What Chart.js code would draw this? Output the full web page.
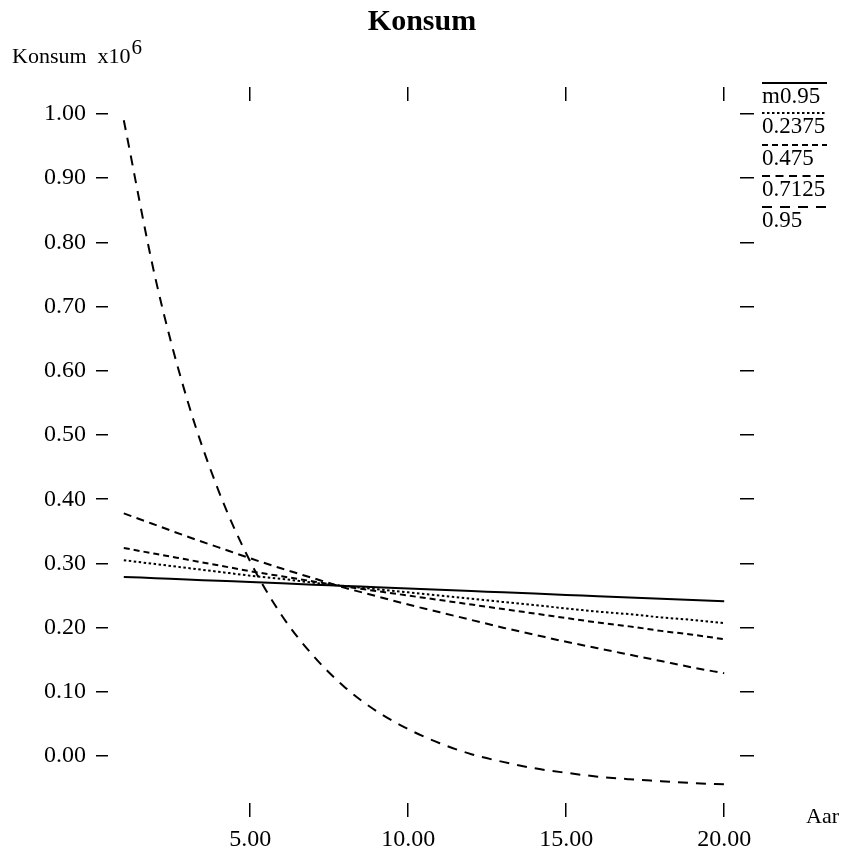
<!DOCTYPE html>
<html>
<head>
<meta charset="utf-8">
<script src="https://cdn.jsdelivr.net/npm/chart.js@4/dist/chart.umd.min.js"></script>
<style>
  html, body { margin: 0; padding: 0; background: #ffffff; }
  #wrap { width: 841px; height: 849px; }
</style>
</head>
<body>
<div id="wrap"><canvas id="c" width="841" height="849"></canvas></div>
<script>
// ---- data ----
const years = [1,2,3,4,5,6,7,8,9,10,11,12,13,14,15,16,17,18,19,20];
const seriesLabels = ['m0.95', '0.2375', '0.475', '0.7125', '0.95'];
const konsumM095  = [0.279,0.277,0.275,0.273,0.271,0.269,0.267,0.265,0.263,0.261,0.259,0.257,0.255,0.253,0.251,0.249,0.247,0.245,0.243,0.241];
const konsum02375 = [0.305,0.299,0.293,0.287,0.281,0.276,0.270,0.265,0.260,0.255,0.250,0.245,0.240,0.235,0.230,0.225,0.221,0.216,0.212,0.207];
const konsum0475  = [0.324,0.315,0.306,0.297,0.288,0.280,0.272,0.264,0.257,0.250,0.243,0.236,0.229,0.222,0.215,0.208,0.202,0.195,0.189,0.182];
const konsum07125 = [0.378,0.360,0.342,0.325,0.308,0.292,0.277,0.262,0.249,0.236,0.224,0.212,0.200,0.189,0.178,0.168,0.158,0.148,0.138,0.129];
const konsum095   = [0.990,0.744,0.556,0.413,0.303,0.219,0.156,0.107,0.070,0.042,0.020,0.003,-0.009,-0.019,-0.026,-0.032,-0.036,-0.039,-0.042,-0.044];
const xTickValues = [5, 10, 15, 20];
const yTickValues = [0, 0.1, 0.2, 0.3, 0.4, 0.5, 0.6, 0.7, 0.8, 0.9, 1.0];

const FONT = '"Liberation Serif", "DejaVu Serif", serif';
const dashStyles = [[], [2.5, 2.5], [6, 4], [8, 5.5], [10, 8]];
const allSeries = [konsumM095, konsum02375, konsum0475, konsum07125, konsum095];

const datasets = allSeries.map((vals, i) => ({
  label: seriesLabels[i],
  data: years.map((yr, j) => ({ x: yr, y: vals[j] })),
  borderColor: '#000',
  borderWidth: 2,
  borderDash: dashStyles[i],
  pointRadius: 0,
  fill: false,
  cubicInterpolationMode: 'monotone',
  xAxisID: 'x',
  yAxisID: 'y'
}));

const gridOpts = (len) => ({
  display: true, drawOnChartArea: false, drawTicks: true,
  tickLength: len, color: '#000', lineWidth: 1.5
});

const decorPlugin = {
  id: 'decor',
  afterDraw(chart) {
    const ctx = chart.ctx;
    ctx.save();
    ctx.fillStyle = '#000';
    ctx.textBaseline = 'alphabetic';
    // title
    ctx.font = 'bold 30px ' + FONT;
    ctx.textAlign = 'center';
    ctx.fillText('Konsum', 422, 30);
    // y-axis label
    ctx.textAlign = 'left';
    ctx.font = '22px ' + FONT;
    const base = 'Konsum  x10';
    ctx.fillText(base, 12, 63);
    const w = ctx.measureText(base).width;
    ctx.font = '21px ' + FONT;
    ctx.fillText('6', 12 + w + 1, 54);
    // x-axis label
    ctx.font = '22px ' + FONT;
    ctx.fillText('Aar', 806, 823);
    // legend
    const lx = 762, lw = 65;
    const lineY = [83, 113, 145, 176, 207];
    chart.data.datasets.forEach((ds, i) => {
      ctx.beginPath();
      ctx.setLineDash(ds.borderDash || []);
      ctx.lineWidth = 2;
      ctx.strokeStyle = '#000';
      ctx.moveTo(lx, lineY[i]);
      ctx.lineTo(lx + lw, lineY[i]);
      ctx.stroke();
      ctx.setLineDash([]);
      ctx.font = '23px ' + FONT;
      ctx.fillText(ds.label, lx, lineY[i] + 20);
    });
    ctx.restore();
  }
};

new Chart(document.getElementById('c'), {
  type: 'line',
  data: { datasets },
  options: {
    responsive: false,
    devicePixelRatio: 1,
    animation: false,
    layout: { padding: 0 },
    plugins: { legend: { display: false }, title: { display: false }, tooltip: { enabled: false } },
    scales: {
      x: {
        type: 'linear', position: 'bottom', min: 0.5, max: 20.5,
        afterBuildTicks: (s) => { s.ticks = xTickValues.map(v => ({ value: v })); },
        afterFit: (s) => { s.height = 46; },
        ticks: { color: '#000', font: { family: FONT, size: 24 }, padding: 8, maxRotation: 0,
                 callback: (v) => Number(v).toFixed(2) },
        grid: gridOpts(14),
        border: { display: false }
      },
      x2: {
        type: 'linear', position: 'top', min: 0.5, max: 20.5,
        afterBuildTicks: (s) => { s.ticks = xTickValues.map(v => ({ value: v })); },
        afterFit: (s) => { s.height = 101; },
        ticks: { display: false },
        grid: gridOpts(14),
        border: { display: false }
      },
      y: {
        type: 'linear', position: 'left', min: -0.073, max: 1.02,
        afterBuildTicks: (s) => { s.ticks = yTickValues.map(v => ({ value: v })); },
        afterFit: (s) => { s.width = 108; },
        ticks: { color: '#000', font: { family: FONT, size: 24 }, padding: 10,
                 callback: (v) => Number(v).toFixed(2) },
        grid: gridOpts(12),
        border: { display: false }
      },
      y2: {
        type: 'linear', position: 'right', min: -0.073, max: 1.02,
        afterBuildTicks: (s) => { s.ticks = yTickValues.map(v => ({ value: v })); },
        afterFit: (s) => { s.width = 101; },
        ticks: { display: false },
        grid: gridOpts(14),
        border: { display: false }
      }
    }
  },
  plugins: [decorPlugin]
});
</script>
</body>
</html>
